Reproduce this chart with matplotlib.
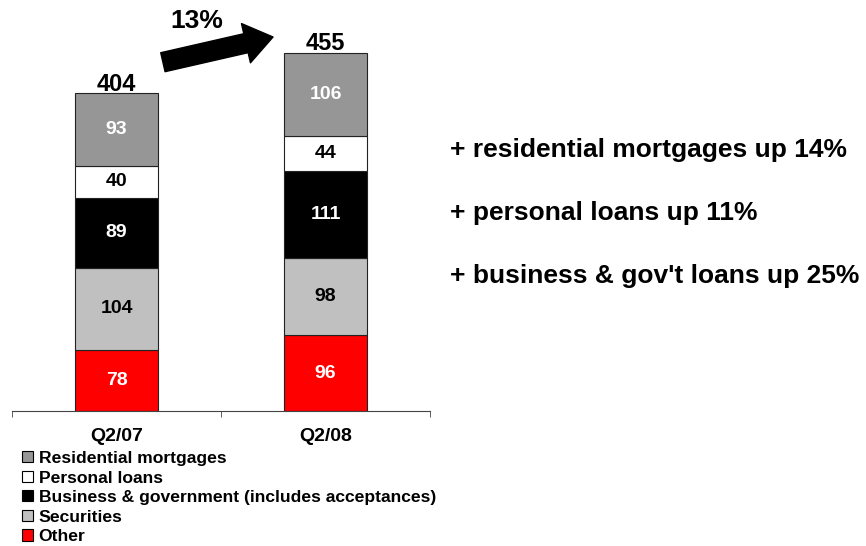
import numpy as np
import matplotlib
matplotlib.use("Agg")
import matplotlib.pyplot as plt
from matplotlib.patches import Patch

plt.rcParams["font.family"] = ["Liberation Sans", "DejaVu Sans"]
plt.rcParams["font.weight"] = "bold"

quarters = ["Q2/07", "Q2/08"]
series = [
    "Other",
    "Securities",
    "Business & government (includes acceptances)",
    "Personal loans",
    "Residential mortgages",
]
other = [78, 96]
securities = [104, 98]
business = [89, 111]
personal = [40, 44]
residential = [93, 106]
values = [other, securities, business, personal, residential]

colors = ["#ff0000", "#c0c0c0", "#000000", "#ffffff", "#969696"]
label_colors = ["white", "black", "white", "black", "white"]

growth_label = "13%"
notes = [
    "+ residential mortgages up 14%",
    "+ personal loans up 11%",
    "+ business & gov't loans up 25%",
]

W, H = 866, 546
fig = plt.figure(figsize=(W / 100, H / 100), dpi=100)
ax = fig.add_axes([12 / W, 135 / H, 418 / W, 411 / H])

x = np.arange(len(quarters))
bottom = np.zeros(len(quarters))
for vals, col, tcol in zip(values, colors, label_colors):
    vals = np.array(vals)
    ax.bar(x, vals, width=0.40, bottom=bottom, color=col,
           edgecolor="#222222", linewidth=0.8, zorder=2)
    for xi, b, v in zip(x, bottom, vals):
        ax.text(xi, b + v / 2, str(v), ha="center", va="center",
                color=tcol, fontsize=14, fontweight="bold", zorder=3)
    bottom = bottom + vals

# totals sit right on top of each stack
for xi, tot in zip(x, bottom):
    ax.text(xi, tot + 3, f"{int(tot)}", ha="center", va="baseline",
            fontsize=17, fontweight="bold")

ax.set_xlim(-0.5, 1.5)
ax.set_ylim(0, 522)
for s in ["top", "right", "left"]:
    ax.spines[s].set_visible(False)
ax.spines["bottom"].set_color("#444444")
ax.set_yticks([])
ax.set_xticks(x)
ax.set_xticklabels(quarters, fontsize=14, fontweight="bold")
ax.set_xticks([-0.5, 0.5, 1.5], minor=True)
ax.tick_params(axis="x", which="major", length=0, pad=12)
ax.tick_params(axis="x", which="minor", length=4.5, color="#444444")

# growth arrow between the bars
ax.annotate("", xy=(0.749, 475), xytext=(0.222, 443),
            arrowprops=dict(arrowstyle="simple,head_length=20,head_width=29,tail_width=14",
                            fc="black", ec="black", mutation_scale=1,
                            shrinkA=0, shrinkB=0),
            annotation_clip=False)
fig.text(197 / W, 1 - 21 / H, growth_label, ha="center", va="center",
         fontsize=19, fontweight="bold")

handles = [Patch(facecolor=c, edgecolor="black", linewidth=0.8)
           for c in colors[::-1]]
fig.legend(handles, series[::-1], loc="upper left",
           bbox_to_anchor=(22 / W, 1 - 451 / H), frameon=False,
           fontsize=12.6, handlelength=0.6, handleheight=0.6,
           handletextpad=0.35, labelspacing=0.26, borderpad=0,
           borderaxespad=0)

for i, note in enumerate(notes):
    fig.text(450 / W, 1 - (150 + 63 * i) / H, note, ha="left", va="center",
             fontsize=19, fontweight="bold")

fig.savefig("out.png", dpi=100)
